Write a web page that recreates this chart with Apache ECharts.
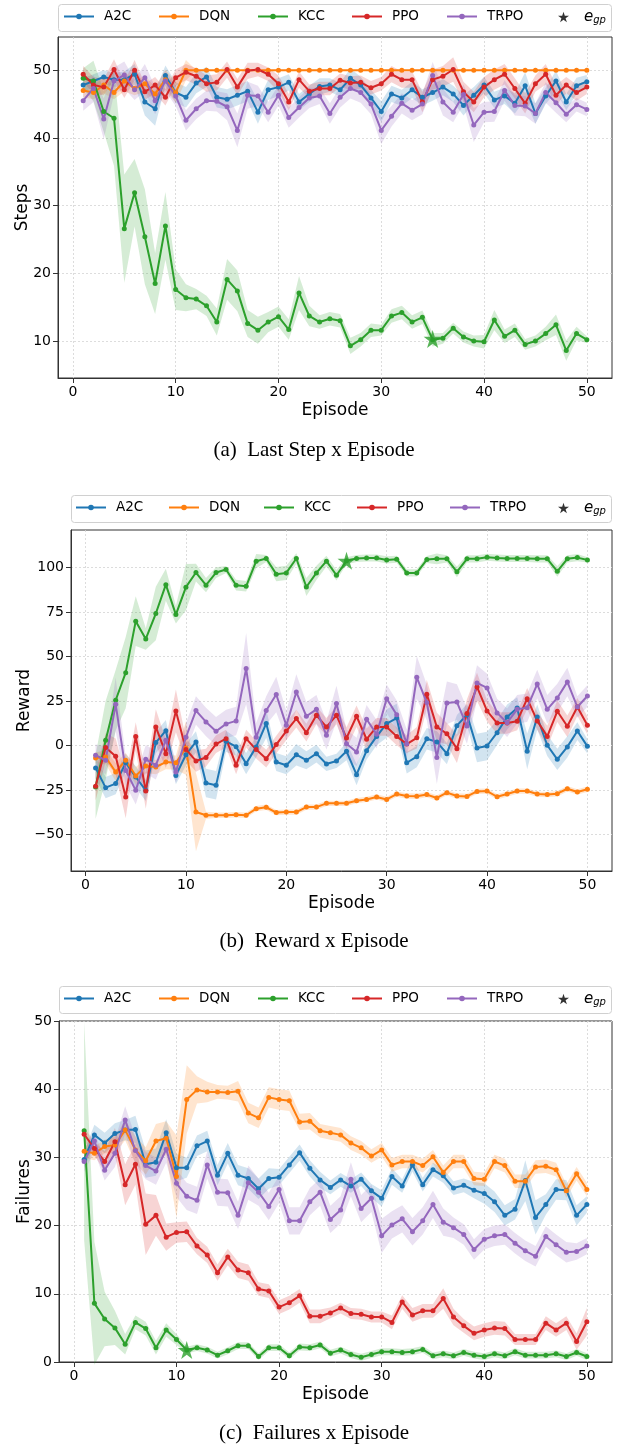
<!DOCTYPE html>
<html><head><meta charset="utf-8">
<script src="https://cdn.jsdelivr.net/npm/echarts@6/dist/echarts.min.js"></script>
<style>html,body{margin:0;padding:0;background:#fff}#c{width:617px;height:1447px}</style>
</head><body><div id="c"></div>
<script>
// ---------------- DATA ----------------
const episodes = [1,2,3,4,5,6,7,8,9,10,11,12,13,14,15,16,17,18,19,20,21,22,23,24,25,26,27,28,29,30,31,32,33,34,35,36,37,38,39,40,41,42,43,44,45,46,47,48,49,50];
const methods = ['A2C','DQN','KCC','PPO','TRPO'];
const xTicks = [0,10,20,30,40,50];
const yTicksSteps = [10,20,30,40,50];
const yTicksReward = [-50,-25,0,25,50,75,100];
const yTicksFail = [0,10,20,30,40,50];
const captions = ['(a)  Last Step x Episode','(b)  Reward x Episode','(c)  Failures x Episode'];
const yNames = ['Steps','Reward','Failures'];

// (a) Last step
const stepsA2C = [47.8,48.4,49.0,48.6,48.6,49.4,45.3,44.3,49.2,46.7,46.0,48.1,49.0,46.0,45.7,46.3,46.9,43.8,47.1,47.5,48.2,45.3,46.5,47.6,47.8,47.1,48.8,47.8,45.9,43.9,46.5,45.9,47.1,46.0,46.7,47.5,46.5,44.8,46.3,47.8,45.6,46.2,45.1,47.7,43.6,46.2,48.4,45.3,47.7,48.3];
const stepsDQN = [47.0,46.7,47.8,46.7,48.4,47.3,48.0,46.5,48.6,46.7,50,50,50,50,50,50,50,50,50,50,50,50,50,50,50,50,50,50,50,50,50,50,50,50,50,50,50,50,50,50,50,50,50,50,50,50,50,50,50,50];
const stepsKCC = [48.8,48.4,43.9,42.9,26.6,31.9,25.4,18.5,27.0,17.6,16.4,16.2,15.2,12.8,19.1,17.4,12.6,11.6,12.8,13.6,11.7,17.1,13.7,12.8,13.3,13.0,9.3,10.2,11.6,11.6,13.7,14.2,12.8,13.5,10.2,10.4,11.9,10.6,10.0,9.9,13.1,10.7,11.6,9.5,10.0,11.1,12.4,8.6,11.1,10.2];
const stepsPPO = [49.4,47.8,47.5,50.1,47.1,50.0,46.8,47.8,46.0,48.9,49.7,49.1,48.0,48.2,50.1,47.5,49.9,50.1,49.4,48.0,45.3,48.6,46.9,47.3,47.3,48.5,48.1,48.2,47.4,48.0,49.4,48.6,48.6,45.3,48.6,49.1,50.1,46.8,45.3,47.5,48.6,49.4,47.3,45.1,48.0,49.4,46.3,47.8,46.7,47.5];
const stepsTRPO = [45.5,47.3,42.8,48.4,49.3,47.1,48.9,45.5,48.4,46.2,42.6,44.3,45.5,45.4,44.6,41.1,46.3,46.2,43.8,46.3,43.0,44.5,45.9,46.2,43.6,46.0,47.3,46.7,45.0,41.1,43.2,45.1,44.1,45.0,49.2,45.3,43.8,46.4,41.9,43.8,43.9,47.0,44.8,44.7,43.6,46.7,45.2,43.5,44.9,44.2];
const sprStepsA2C = [1,1,1,1,1.2,1.5,2,2.5,1.5,1.5,1.5,1.5,1.5,1.5,1.5,1.5,1.5,1.7,1.5,1.3,1.2,1.2,1.2,1.2,1,1,1.5,1.2,1.2,1.5,1.2,1.2,1.2,1.2,1.2,1.2,1.2,1.5,1.2,1.2,1.2,1.2,1.5,2,1.5,1.2,1.5,1.2,1.2,1];
const sprStepsDQN = [1,1,1.2,1,1.5,1,1.2,1,1.5,1.5,1.5,0,0,0,0,0,0,0,0,0,0,0,0,0,0,0,0,0,0,0,0,0,0,0,0,0,0,0,0,0,0,0,0,0,0,0,0,0,0,0];
const sprStepsKCC = [1.5,3,3,7,8,5,7,4.5,5,3,2,1.5,1.5,2,3,3,2,2,1.5,1.5,1.5,2.5,1.5,1,1,1,1.2,1,1,0.8,1,1,1,1,1,0.8,0.8,0.8,0.8,1,1.5,1,1,0.8,0.8,1,1.5,1.5,1,0.5];
const sprStepsPPO = [1.2,1.2,1.2,1.5,1.2,1.5,1.2,1.2,1.2,1.2,1.2,1.2,1.2,1.2,1.2,1.2,1.2,1,1,1.2,1.2,1.2,1,1,1,1,1,1,1,1,1.2,1.2,1.2,1.5,1.5,1.5,1.8,1.5,1.5,1.5,1.5,1.5,1.5,1.5,1.2,1.5,1.5,1.2,1.2,1];
const sprStepsTRPO = [1.5,2,3,2,2,1.5,2,2,1.5,1.5,1.5,1.5,1.5,1.5,2,2.5,2,1.5,1.5,1.5,1.5,1.5,1.5,1.2,1.5,1.5,1.5,1.5,1.5,2,1.5,1.5,1.5,1.5,2,2,1.5,1.5,2.5,1.5,1.5,1.5,1.5,1.5,1.5,1.5,1.5,1.2,1,1];
const egpSteps = [35, 10.3];

// (b) Reward
const rewA2C = [-12.5,-23.6,-21.3,-9.6,-17.6,-25.1,1.7,8.4,-16.7,-5.1,2.1,-21.0,-22.3,2.4,-0.6,-10.1,-0.7,12.5,-9.2,-11.0,-5.1,-8.2,-4.5,-10.3,-8.6,-3.2,-16.3,-2.8,5.2,12.4,15.5,-9.6,-6.2,3.9,2.1,-4.5,11.2,17.4,-1.3,-0.2,7.3,16.1,21.2,-3.2,16.1,0.2,-7.7,-0.7,8.2,-0.4];
const rewDQN = [-6.9,-6.4,-14.8,-8.2,-17.0,-11.4,-12.0,-9.2,-9.6,-1.3,-37.3,-39.1,-39.1,-39.1,-38.8,-39.1,-35.4,-34.6,-37.6,-37.3,-37.3,-34.5,-34.5,-32.4,-32.4,-32.4,-30.9,-30.2,-28.8,-30.2,-27.2,-28.3,-28.4,-27.5,-29.4,-26.4,-28.3,-28.5,-25.7,-25.5,-28.7,-27.2,-25.5,-25.5,-27.2,-27.5,-27.0,-24.2,-26.0,-24.5];
const rewKCC = [-23.2,3.0,25.5,41.0,69.9,59.9,74.2,90.4,73.6,89.0,97.2,90.1,97.2,98.9,90.1,89.5,103.6,105.1,96.3,97.0,105.1,89.1,97.0,103.6,95.7,103.8,105.1,105.4,105.4,104.3,104.7,97.0,97.0,104.5,104.9,104.9,97.6,104.9,104.9,105.8,105.4,105.1,105.1,105.1,104.9,104.9,97.9,104.9,105.6,104.3];
const rewPPO = [-22.8,-1.1,-6.0,-28.8,5.2,-25.5,10.5,-4.5,19.5,-2.1,-8.6,-6.7,0.9,3.9,-11.0,3.9,-2.2,-7.3,0.6,8.2,15.2,7.3,17.0,10.5,17.0,4.3,16.5,3.6,10.5,10.5,5.2,0.9,4.4,28.8,10.5,6.7,-1.7,18.0,33.0,19.5,12.7,12.7,13.7,26.4,13.9,5.2,19.3,10.9,21.7,11.4];
const rewTRPO = [-5.4,-8.2,23.2,-13.9,-25.1,-7.7,-11.0,3.0,-14.8,4.7,19.7,13.3,8.1,12.2,13.9,43.3,4.7,19.7,28.7,11.4,30.1,16.5,20.4,5.8,23.6,1.1,-3.6,14.8,6.4,26.4,17.4,1.1,38.4,24.2,-6.6,24.0,24.5,11.0,35.2,32.4,18.4,12.9,20.4,21.3,34.6,20.4,26.8,35.8,21.7,27.9];
const sprRewA2C = [6,6,6,5,6,6,6,6,5,6,6,8,8,6,5,6,6,8,5,5,6,5,5,4,4,5,6,5,5,8,8,6,6,6,6,6,6,6,8,8,7,7,6,10,7,6,6,6,5,4];
const sprRewDQN = [3,4,5,4,5,4,4,4,4,15,22,2,1.5,1.5,1.5,1.5,1.5,1.5,1.5,1.5,1.5,1.5,1.5,1.5,1.5,1.5,1.5,1.5,1.5,1.5,1.5,1.5,1.5,1.5,1.5,1.5,1.5,1.5,1.5,1.5,1.5,1.5,1.5,1.5,1.5,1.5,1.5,1.5,1.5,1.5];
const sprRewKCC = [18,22,17,20,14,6,15,9,5,13,5,4,3,2,3,3,4,2,4,4,3,5,4,3,3,2,2,2,2,2,2,2,2,2,3,2,3,2,2,2,2,2,2,2,2,2,3,2,2,1.5];
const sprRewPPO = [8,8,10,12,8,10,10,8,12,6,6,5,5,5,5,5,5,5,5,5,5,5,5,5,5,6,6,6,5,5,5,5,6,8,8,6,8,8,8,6,6,6,5,6,5,6,6,6,5,5];
const sprRewTRPO = [6,8,15,8,8,8,8,8,6,8,8,8,8,8,8,20,8,8,10,8,10,8,8,8,10,8,8,8,8,8,8,8,12,10,15,12,10,10,10,8,8,8,8,8,8,8,8,8,6,6];
const egpReward = [26, 103.8];

// (c) Failures
const failA2C = [29.7,33.3,32.1,33.5,34.0,34.1,29.0,29.3,33.6,28.5,28.5,31.7,32.4,27.4,30.6,27.4,26.9,25.4,26.9,27.1,28.9,30.7,28.4,26.7,25.6,26.7,25.8,26.8,25.1,24.0,27.2,25.8,28.9,26.0,28.2,27.3,25.5,25.9,25.2,24.7,23.5,21.5,22.4,26.6,21.2,23.1,25.3,25.2,21.5,23.1];
const failDQN = [30.9,30.6,31.6,31.8,34.0,31.1,29.5,32.4,32.8,27.2,38.5,39.9,39.6,39.6,39.5,39.7,36.5,35.8,38.8,38.5,38.3,35.2,35.3,33.9,33.6,33.3,32.1,31.4,30.2,31.1,28.9,29.4,29.4,28.8,30.1,27.8,29.4,29.4,26.9,26.8,29.4,28.8,26.5,26.5,28.6,28.7,28.2,25.1,27.6,25.3];
const failKCC = [33.9,8.6,6.3,5.0,2.6,5.8,4.9,2.1,4.7,3.3,1.75,2.1,1.75,1.0,1.65,2.4,2.4,0.8,2.1,2.1,0.9,2.2,2.1,2.5,1.3,1.75,1.1,0.7,1.1,1.5,1.5,1.4,1.5,1.85,0.9,1.2,0.9,1.4,1.0,0.8,1.2,0.9,1.5,1.0,1.0,1.0,1.2,0.8,1.4,0.8];
const failPPO = [33.4,31.3,29.4,32.3,26.0,29.0,20.2,21.5,18.3,19.0,19.1,17.0,15.7,13.1,15.4,13.5,13.1,10.7,10.4,8.05,8.7,9.7,6.7,6.7,7.2,7.9,7.1,7.0,6.6,6.6,5.8,8.8,6.9,7.5,7.5,9.3,6.6,5.3,4.2,4.7,5.0,4.9,3.3,3.3,3.3,5.7,4.7,5.7,3.0,5.9];
const failTRPO = [29.4,32.4,28.1,30.6,35.5,31.0,28.8,28.0,31.2,26.2,24.3,23.7,28.9,24.9,24.8,21.5,26.3,24.9,22.8,25.3,20.7,20.7,23.5,24.9,20.9,22.3,26.8,22.5,24.0,18.5,20.1,21.0,19.1,20.7,23.1,20.5,19.7,18.7,16.5,18.0,18.5,18.7,17.4,16.3,15.5,18.4,17.2,16.1,16.2,17.0];
const sprFailA2C = [1.2,1.5,1.5,1.5,1.5,2,2,2,2,2,1.5,1.5,1.5,1.5,1.5,1.5,1.5,1.5,1.5,1.2,1.2,1.2,1.2,1.2,1,1,1,1,1,1.2,1.2,1,1,1,1,1,1,1,1.2,1.5,1.5,1.5,1.5,3,2.5,1.5,1.5,1.5,1.5,1.2];
const sprFailDQN = [1,1,1,1.2,1.5,2,2,2.5,2.5,6,5,2,1.5,1,1,1.5,1.5,1.5,1.5,1.5,1.5,1.2,1.2,1,1,1,1,1,1,1,1,1,1,1,1,1,1,1,1,1,1,1,1,1,1,1,1,1,1,1];
const sprFailKCC = [16,9,4,2.5,1.5,1,1,1,1,0.8,0.5,0.5,0.5,0.5,0.5,0.5,0.5,0.5,0.5,0.5,0.5,0.5,0.5,0.5,0.5,0.5,0.5,0.5,0.5,0.5,0.5,0.5,0.5,0.5,0.5,0.5,0.5,0.5,0.5,0.5,0.5,0.5,0.5,0.5,0.5,0.5,0.5,0.5,0.5,0.5];
const sprFailPPO = [1,1,1.5,2,3,3,4.5,3,2,1.5,1.5,1.2,1.2,1.2,1.2,1.2,1.2,1,1,1,1,1,1,1,0.8,0.8,0.8,0.8,0.8,0.8,1,1,1,1,1,1.5,1.2,1,1,1,1,1,0.8,0.8,0.8,1,1,1,1.2,2];
const sprFailTRPO = [1.5,1.5,1.5,2,2,2,2,2,2,2,2,2,2,2,2,2,2.5,2,2,2,2,2,2,2,2,2,2.5,2,2,2.5,2,2,2,2,2,2,1.5,1.5,1.5,1.5,1.5,1.5,1.5,1.5,1.5,1.5,1.5,1.5,1.2,1.2];
const egpFail = [11, 1.75];

// ---------------- LAYOUT / STYLE ----------------
const FONT = 'DejaVu Sans';
const colors = {A2C:'#1f77b4', DQN:'#ff7f0e', KCC:'#2ca02c', PPO:'#d62728', TRPO:'#9467bd'};
const STAR = 'path://M50,0 L61.2,34.5 L97.6,34.5 L68.2,55.9 L79.4,90.5 L50,69.1 L20.6,90.5 L31.8,55.9 L2.4,34.5 L38.8,34.5 Z';

const panels = [
  {vals:{A2C:stepsA2C,DQN:stepsDQN,KCC:stepsKCC,PPO:stepsPPO,TRPO:stepsTRPO},
   spr:{A2C:sprStepsA2C,DQN:sprStepsDQN,KCC:sprStepsKCC,PPO:sprStepsPPO,TRPO:sprStepsTRPO},
   star:egpSteps, ymin:4.54, ymax:54.9, yticks:yTicksSteps,
   grid:{left:58, top:37, width:554, height:341}, yNameGap:27,
   box:{x:58,y:4,w:554,h:27}, legX:[63,158,257,351,446], capY:450},
  {vals:{A2C:rewA2C,DQN:rewDQN,KCC:rewKCC,PPO:rewPPO,TRPO:rewTRPO},
   spr:{A2C:sprRewA2C,DQN:sprRewDQN,KCC:sprRewKCC,PPO:sprRewPPO,TRPO:sprRewTRPO},
   star:egpReward, ymin:-70.4, ymax:121.1, yticks:yTicksReward,
   grid:{left:71, top:530, width:541, height:341}, yNameGap:38,
   box:{x:71,y:495,w:541,h:27}, legX:[75,168,263,356,449], capY:941},
  {vals:{A2C:failA2C,DQN:failDQN,KCC:failKCC,PPO:failPPO,TRPO:failTRPO},
   spr:{A2C:sprFailA2C,DQN:sprFailDQN,KCC:sprFailKCC,PPO:sprFailPPO,TRPO:sprFailTRPO},
   star:egpFail, ymin:0, ymax:50, yticks:yTicksFail,
   grid:{left:59, top:1021, width:553, height:341}, yNameGap:26,
   box:{x:59,y:986,w:553,h:27}, legX:[63,158,257,351,446], capY:1433}
];

const grids=[], xAxes=[], yAxes=[], series=[], legends=[], graphics=[];
const fmtMinus = v => (v < 0 ? '\u2212' + Math.abs(v) : String(v));

panels.forEach((P, p) => {
  grids.push(Object.assign({show:true, borderColor:'#333', borderWidth:1, backgroundColor:'transparent',
    containLabel:false, outerBoundsMode:'none'}, P.grid));
  xAxes.push({type:'value', gridIndex:p, min:-1.45, max:52.45,
    name:'Episode', nameLocation:'middle', nameGap:24, nameMoveOverlap:false,
    nameTextStyle:{fontFamily:FONT, fontSize:17, color:'#000'},
    axisLine:{show:true, onZero:false, lineStyle:{color:'#333', width:1}},
    axisTick:{show:true, length:5, customValues:xTicks, lineStyle:{color:'#333'}},
    axisLabel:{customValues:xTicks, fontFamily:FONT, fontSize:14, color:'#000', margin:7},
    splitLine:{show:true, lineStyle:{color:'#d4d4d4', type:[2,2], width:0.8}}
  });
  yAxes.push({type:'value', gridIndex:p, min:P.ymin, max:P.ymax,
    name:yNames[p], nameLocation:'middle', nameGap:P.yNameGap, nameRotate:90, nameMoveOverlap:false,
    nameTextStyle:{fontFamily:FONT, fontSize:17, color:'#000'},
    axisLine:{show:true, onZero:false, lineStyle:{color:'#333', width:1}},
    axisTick:{show:true, length:5, customValues:P.yticks, lineStyle:{color:'#333'}},
    axisLabel:{customValues:P.yticks, fontFamily:FONT, fontSize:14, color:'#000', margin:7, formatter:fmtMinus},
    splitLine:{show:true, lineStyle:{color:'#d4d4d4', type:[2,2], width:0.8}}
  });
  methods.forEach((m) => {
    const vals = P.vals[m], spr = P.spr[m];
    const lo = vals.map((v,i)=>v-spr[i]), hi = vals.map((v,i)=>v+spr[i]);
    series.push({type:'custom', name:m+' band '+p, xAxisIndex:p, yAxisIndex:p, silent:true,
      data: episodes.map((e,i)=>[e, lo[i], hi[i]]), encode:{x:0, y:[1,2]},
      renderItem: function(params, api){
        if (params.dataIndex !== 0) return null;
        const pts = [];
        for (let i=0;i<episodes.length;i++) pts.push(api.coord([episodes[i], hi[i]]));
        for (let i=episodes.length-1;i>=0;i--) pts.push(api.coord([episodes[i], lo[i]]));
        return {type:'polygon', shape:{points:pts}, style:{fill:colors[m], opacity:0.2}};
      }});
    series.push({type:'line', name:m, xAxisIndex:p, yAxisIndex:p,
      data: episodes.map((e,i)=>[e, vals[i]]),
      symbol:'circle', symbolSize:5, showSymbol:true,
      lineStyle:{color:colors[m], width:2}, itemStyle:{color:colors[m]}, z:3});
  });
  series.push({type:'scatter', name:'egp', xAxisIndex:p, yAxisIndex:p,
    data:[P.star], symbol:STAR, symbolSize:18, itemStyle:{color:'#2ca02c'}, z:5});

  graphics.push({type:'rect', shape:{x:P.box.x+0.5, y:P.box.y+0.5, width:P.box.w-1, height:P.box.h, r:3},
    style:{fill:'#fff', stroke:'#d0d0d0', lineWidth:1}, z:0});
  const cy = P.box.y + P.box.h/2;
  methods.forEach((m,k) => {
    legends.push({show:true, left:P.legX[k], top:cy-8, padding:0, itemWidth:30, itemHeight:7, itemGap:0,
      selectedMode:false, data:[m],
      textStyle:{fontFamily:FONT, fontSize:13.5, color:'#000', padding:[0,0,0,5]}});
  });
  legends.push({show:true, left:558, top:cy-8, padding:0, itemWidth:11, itemHeight:11, itemGap:0,
    selectedMode:false, icon:STAR, data:[{name:'egp', itemStyle:{color:'#000'}}],
    formatter:()=>'{e|e}{s|gp}',
    textStyle:{fontFamily:FONT, color:'#000', padding:[0,0,0,10],
      rich:{e:{fontFamily:FONT, fontStyle:'italic', fontSize:15, color:'#000'},
            s:{fontFamily:FONT, fontStyle:'italic', fontSize:10, color:'#000', padding:[7,0,0,0]}}}});
  graphics.push({type:'text', x:314, y:P.capY, style:{text:captions[p], font:'21px "Liberation Serif"', fill:'#000', textAlign:'center', textVerticalAlign:'middle'}, z:10});
});

const chart = echarts.init(document.getElementById('c'), null, {renderer:'canvas', width:617, height:1447});
chart.setOption({animation:false, backgroundColor:'#fff', grid:grids, xAxis:xAxes, yAxis:yAxes,
  legend:legends, series:series, graphic:{elements:graphics}});
</script>
</body></html>
